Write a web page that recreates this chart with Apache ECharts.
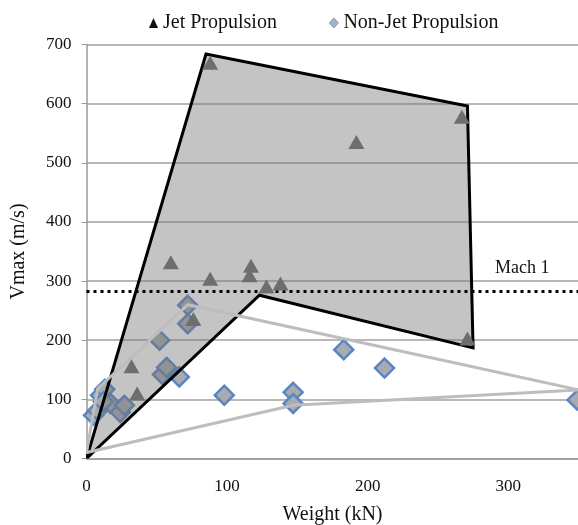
<!DOCTYPE html>
<html>
<head>
<meta charset="utf-8">
<script src="https://cdn.jsdelivr.net/npm/echarts@6/dist/echarts.min.js"></script>
<style>
html,body{margin:0;padding:0;background:#fff;overflow:hidden;}
#c{width:578px;height:525px;}
</style>
</head>
<body>
<div id="c"></div>
<script>
// Jet propulsion aircraft (triangles)
const jetWeight = [88, 60, 88, 117, 116, 128, 138, 32, 36, 76, 192, 267, 271];
const jetVmax   = [669, 332, 304, 326, 310, 291, 296, 156, 110, 236, 535, 578, 203];
// Non-jet propulsion aircraft (diamonds)
const nonJetWeight = [72, 72, 52, 54, 57, 66, 98, 147, 147, 183, 212, 349, 5, 8, 10, 13, 17, 24, 27, 12];
const nonJetVmax   = [259, 228, 200, 142, 154, 138, 107, 112, 93, 184, 153, 99, 73, 81, 107, 117, 93, 78, 90, 96];
// Envelope polygons
const jetEnvX = [0, 85, 271, 275, 123];
const jetEnvY = [0, 684, 596, 187, 276];
const nonJetEnvX = [0, 8, 72, 350, 147];
const nonJetEnvY = [10, 118, 260, 116, 90];
// Mach 1 reference
const mach1 = 283;
const xTicks = [0, 100, 200, 300];
const yTicks = [0, 100, 200, 300, 400, 500, 600, 700];

const serif = '"Liberation Serif", "Times New Roman", serif';
const zip = (a, b) => a.map((v, i) => [v, b[i]]);

function polygonSeries(xs, ys, style, z) {
  return {
    type: 'custom',
    z: z,
    silent: true,
    clip: true,
    data: zip(xs, ys),
    renderItem: function (params, api) {
      if (params.dataIndex !== 0) return null;
      const pts = zip(xs, ys).map(p => api.coord(p));
      return { type: 'polygon', shape: { points: pts }, style: style };
    }
  };
}

const chart = echarts.init(document.getElementById('c'), null, { renderer: 'canvas' });
chart.setOption({
  animation: false,
  backgroundColor: '#fff',
  textStyle: { fontFamily: serif },
  legend: {
    top: 8, left: 144, itemGap: 52, itemWidth: 9, itemHeight: 10,
    textStyle: { fontFamily: serif, fontSize: 20, color: '#111' },
    data: [
      { name: 'Jet Propulsion', icon: 'triangle', itemStyle: { color: '#111', borderWidth: 0 } },
      { name: 'Non-Jet Propulsion', icon: 'diamond', itemStyle: { color: '#a3b1c4', borderColor: '#7f9cc4', borderWidth: 1 } }
    ]
  },
  grid: { left: 86.5, right: -0.5, top: 44.5, bottom: 66.5, containLabel: false, outerBoundsMode: 'none' },
  xAxis: {
    type: 'value', min: xTicks[0], max: 350, interval: 100,
    name: 'Weight (kN)', nameLocation: 'middle', nameGap: 46,
    nameTextStyle: { fontFamily: serif, fontSize: 20, color: '#111' },
    axisLine: { show: true, lineStyle: { color: '#9a9a9a', width: 1.5 } },
    axisTick: { show: false },
    axisLabel: { fontFamily: serif, fontSize: 17, color: '#111', margin: 20,
      formatter: v => xTicks.includes(v) ? String(v) : '' },
    splitLine: { show: false }
  },
  yAxis: {
    type: 'value', min: yTicks[0], max: 700, interval: 100,
    name: 'Vmax (m/s)', nameLocation: 'middle', nameGap: 58,
    nameTextStyle: { fontFamily: serif, fontSize: 20, color: '#111' },
    axisLine: { show: true, lineStyle: { color: '#9a9a9a', width: 1.5 } },
    axisTick: { show: true, inside: false, length: 5, lineStyle: { color: '#9a9a9a' } },
    axisLabel: { fontFamily: serif, fontSize: 17, color: '#111', margin: 15 },
    splitLine: { show: true, lineStyle: { color: '#a0a0a0', width: 1.5 } }
  },
  series: [
    {
      name: 'Non-Jet Propulsion', type: 'scatter', z: 2,
      symbol: 'diamond', symbolSize: 19,
      itemStyle: { color: '#a8abb0', borderColor: '#5a86c2', borderWidth: 2.5, opacity: 1 },
      data: zip(nonJetWeight, nonJetVmax)
    },
    polygonSeries(jetEnvX, jetEnvY, { fill: 'rgba(115,115,115,0.42)', stroke: '#000', lineWidth: 3, lineJoin: 'miter' }, 3),
    polygonSeries(nonJetEnvX, nonJetEnvY, { fill: 'none', stroke: '#bdbdbd', lineWidth: 3 }, 4),
    {
      name: 'Mach', type: 'line', z: 5, data: [], silent: true,
      markLine: {
        silent: true, symbol: 'none', animation: false,
        lineStyle: { type: [3, 4], width: 3, color: '#000', cap: 'butt' },
        label: { show: true, position: 'insideEndTop', formatter: 'Mach 1',
          fontFamily: serif, fontSize: 18, color: '#111', padding: [0, 24, 9, 0] },
        data: [{ yAxis: mach1 }]
      }
    },
    {
      name: 'Jet Propulsion', type: 'scatter', z: 6,
      symbol: 'triangle', symbolSize: [16, 14],
      itemStyle: { color: '#6e6e6e', opacity: 1 },
      data: zip(jetWeight, jetVmax)
    }
  ]
});
</script>
</body>
</html>
